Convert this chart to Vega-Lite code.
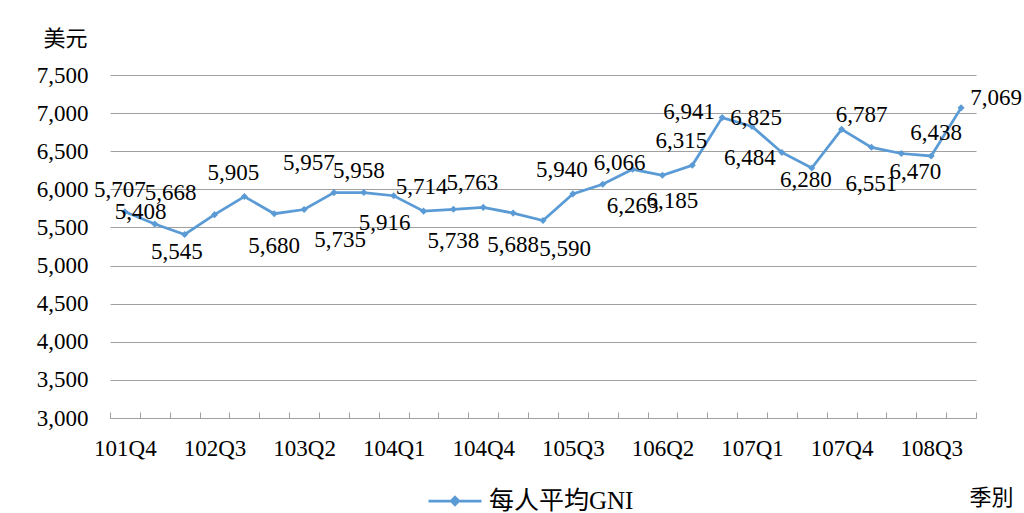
{
  "$schema": "https://vega.github.io/schema/vega-lite/v6.json",
  "autosize": {"type": "none"},
  "width": 866,
  "height": 343,
  "padding": {"left": 110, "top": 75, "right": 48, "bottom": 95},
  "background": "white",
  "config": {"view": {"stroke": null}},
  "data": {
    "values": [
      {"q": "101Q4", "v": 5707},
      {"q": "102Q1", "v": 5545},
      {"q": "102Q2", "v": 5408},
      {"q": "102Q3", "v": 5668},
      {"q": "102Q4", "v": 5905},
      {"q": "103Q1", "v": 5680},
      {"q": "103Q2", "v": 5735},
      {"q": "103Q3", "v": 5957},
      {"q": "103Q4", "v": 5958},
      {"q": "104Q1", "v": 5916},
      {"q": "104Q2", "v": 5714},
      {"q": "104Q3", "v": 5738},
      {"q": "104Q4", "v": 5763},
      {"q": "105Q1", "v": 5688},
      {"q": "105Q2", "v": 5590},
      {"q": "105Q3", "v": 5940},
      {"q": "105Q4", "v": 6066},
      {"q": "106Q1", "v": 6263},
      {"q": "106Q2", "v": 6185},
      {"q": "106Q3", "v": 6315},
      {"q": "106Q4", "v": 6941},
      {"q": "107Q1", "v": 6825},
      {"q": "107Q2", "v": 6484},
      {"q": "107Q3", "v": 6280},
      {"q": "107Q4", "v": 6787},
      {"q": "108Q1", "v": 6551},
      {"q": "108Q2", "v": 6470},
      {"q": "108Q3", "v": 6438},
      {"q": "108Q4", "v": 7069}
    ]
  },
  "encoding": {
    "x": {
      "field": "q", "type": "ordinal", "sort": null,
      "scale": {"type": "band", "paddingInner": 0, "paddingOuter": 0},
      "axis": {
        "title": "季別", "titleX": 881, "titleY": 79, "titleAlign": "center", "titleBaseline": "middle",
        "titleFont": "Noto Sans CJK TC", "titleFontSize": 22, "titleFontWeight": "normal", "titleColor": "black",
        "labelAngle": 0, "labelFont": "Liberation Serif", "labelFontSize": 23, "labelColor": "black",
        "labelOverlap": false, "labelBaseline": "top", "labelPadding": 25,
        "labelExpr": "indexof(['101Q4','102Q3','103Q2','104Q1','104Q4','105Q3','106Q2','107Q1','107Q4','108Q3'], datum.value) >= 0 ? datum.value : ''",
        "tickBand": "extent", "tickSize": -6, "tickColor": "#a0a0a0", "tickWidth": 1,
        "domainColor": "#a0a0a0", "domainWidth": 1, "grid": false
      }
    },
    "y": {
      "field": "v", "type": "quantitative",
      "scale": {"domain": [3000, 7500], "nice": false, "zero": false},
      "axis": {
        "title": "美元", "titleAngle": 0, "titleX": -45, "titleY": -37, "titleAlign": "center", "titleBaseline": "middle",
        "titleFont": "Noto Sans CJK TC", "titleFontSize": 22, "titleFontWeight": "normal", "titleColor": "black",
        "values": [3000, 3500, 4000, 4500, 5000, 5500, 6000, 6500, 7000, 7500],
        "format": ",d", "labelFont": "Liberation Serif", "labelFontSize": 23, "labelColor": "black",
        "labelPadding": 22, "ticks": false, "domain": false,
        "grid": true, "gridColor": "#a0a0a0", "gridWidth": 1
      }
    }
  },
  "layer": [
    {
      "mark": {"type": "line", "strokeWidth": 2.75},
      "encoding": {
        "color": {
          "datum": "每人平均GNI",
          "scale": {"range": ["#5b9bd5"]},
          "legend": {
            "orient": "none", "legendX": 317, "legendY": 398, "title": null, "padding": 0,
            "symbolType": "M-1,0H1M0,-0.14L0.14,0L0,0.14L-0.14,0Z", "symbolSize": 2809,
            "symbolStrokeWidth": 2.75, "symbolFillColor": "#5b9bd5", "symbolStrokeColor": "#5b9bd5",
            "labelFont": "Liberation Serif, Noto Sans CJK TC", "labelFontSize": 25, "labelColor": "black", "labelOffset": 6
          }
        }
      }
    },
    {"mark": {"type": "point", "shape": "diamond", "filled": true, "size": 50, "color": "#5b9bd5", "opacity": 1}},
    {"transform": [{"filter": {"field": "q", "oneOf": ["101Q4"]}}], "mark": {"type": "text", "dx": -5, "dy": -22, "font": "Liberation Serif", "fontSize": 23, "color": "black"}, "encoding": {"text": {"field": "v", "format": ","}}},
    {"transform": [{"filter": {"field": "q", "oneOf": ["104Q2"]}}], "mark": {"type": "text", "dx": -2, "dy": -24, "font": "Liberation Serif", "fontSize": 23, "color": "black"}, "encoding": {"text": {"field": "v", "format": ","}}},
    {"transform": [{"filter": {"field": "q", "oneOf": ["108Q3"]}}], "mark": {"type": "text", "dx": 5, "dy": -23, "font": "Liberation Serif", "fontSize": 23, "color": "black"}, "encoding": {"text": {"field": "v", "format": ","}}},
    {"transform": [{"filter": {"field": "q", "oneOf": ["102Q4", "104Q4", "105Q3", "106Q3"]}}], "mark": {"type": "text", "dx": -11, "dy": -24, "font": "Liberation Serif", "fontSize": 23, "color": "black"}, "encoding": {"text": {"field": "v", "format": ","}}},
    {"transform": [{"filter": {"field": "q", "oneOf": ["103Q3"]}}], "mark": {"type": "text", "dx": -25, "dy": -30, "font": "Liberation Serif", "fontSize": 23, "color": "black"}, "encoding": {"text": {"field": "v", "format": ","}}},
    {"transform": [{"filter": {"field": "q", "oneOf": ["103Q4"]}}], "mark": {"type": "text", "dx": -5, "dy": -22, "font": "Liberation Serif", "fontSize": 23, "color": "black"}, "encoding": {"text": {"field": "v", "format": ","}}},
    {"transform": [{"filter": {"field": "q", "oneOf": ["102Q2", "102Q3"]}}], "mark": {"type": "text", "dx": -44, "dy": -22, "font": "Liberation Serif", "fontSize": 23, "color": "black"}, "encoding": {"text": {"field": "v", "format": ","}}},
    {"transform": [{"filter": {"field": "q", "oneOf": ["105Q4"]}}], "mark": {"type": "text", "dx": 17, "dy": -21, "font": "Liberation Serif", "fontSize": 23, "color": "black"}, "encoding": {"text": {"field": "v", "format": ","}}},
    {"transform": [{"filter": {"field": "q", "oneOf": ["107Q4"]}}], "mark": {"type": "text", "dx": 20, "dy": -14, "font": "Liberation Serif", "fontSize": 23, "color": "black"}, "encoding": {"text": {"field": "v", "format": ","}}},
    {"transform": [{"filter": {"field": "q", "oneOf": ["108Q4"]}}], "mark": {"type": "text", "dx": 35, "dy": -10, "font": "Liberation Serif", "fontSize": 23, "color": "black"}, "encoding": {"text": {"field": "v", "format": ","}}},
    {"transform": [{"filter": {"field": "q", "oneOf": ["107Q1"]}}], "mark": {"type": "text", "dx": 4, "dy": -8, "font": "Liberation Serif", "fontSize": 23, "color": "black"}, "encoding": {"text": {"field": "v", "format": ","}}},
    {"transform": [{"filter": {"field": "q", "oneOf": ["106Q4"]}}], "mark": {"type": "text", "dx": -33, "dy": -6, "font": "Liberation Serif", "fontSize": 23, "color": "black"}, "encoding": {"text": {"field": "v", "format": ","}}},
    {"transform": [{"filter": {"field": "q", "oneOf": ["107Q2"]}}], "mark": {"type": "text", "dx": -32, "dy": 6, "font": "Liberation Serif", "fontSize": 23, "color": "black"}, "encoding": {"text": {"field": "v", "format": ","}}},
    {"transform": [{"filter": {"field": "q", "oneOf": ["103Q1", "104Q3", "105Q1"]}}], "mark": {"type": "text", "dx": 0, "dy": 32, "font": "Liberation Serif", "fontSize": 23, "color": "black"}, "encoding": {"text": {"field": "v", "format": ","}}},
    {"transform": [{"filter": {"field": "q", "oneOf": ["103Q2"]}}], "mark": {"type": "text", "dx": 36, "dy": 30, "font": "Liberation Serif", "fontSize": 23, "color": "black"}, "encoding": {"text": {"field": "v", "format": ","}}},
    {"transform": [{"filter": {"field": "q", "oneOf": ["106Q1", "108Q1"]}}], "mark": {"type": "text", "dx": 0, "dy": 37, "font": "Liberation Serif", "fontSize": 23, "color": "black"}, "encoding": {"text": {"field": "v", "format": ","}}},
    {"transform": [{"filter": {"field": "q", "oneOf": ["104Q1"]}}], "mark": {"type": "text", "dx": -9, "dy": 27, "font": "Liberation Serif", "fontSize": 23, "color": "black"}, "encoding": {"text": {"field": "v", "format": ","}}},
    {"transform": [{"filter": {"field": "q", "oneOf": ["102Q1", "105Q2"]}}], "mark": {"type": "text", "dx": 22, "dy": 28, "font": "Liberation Serif", "fontSize": 23, "color": "black"}, "encoding": {"text": {"field": "v", "format": ","}}},
    {"transform": [{"filter": {"field": "q", "oneOf": ["106Q2"]}}], "mark": {"type": "text", "dx": 10, "dy": 26, "font": "Liberation Serif", "fontSize": 23, "color": "black"}, "encoding": {"text": {"field": "v", "format": ","}}},
    {"transform": [{"filter": {"field": "q", "oneOf": ["108Q2"]}}], "mark": {"type": "text", "dx": 14, "dy": 18, "font": "Liberation Serif", "fontSize": 23, "color": "black"}, "encoding": {"text": {"field": "v", "format": ","}}},
    {"transform": [{"filter": {"field": "q", "oneOf": ["107Q3"]}}], "mark": {"type": "text", "dx": -6, "dy": 12, "font": "Liberation Serif", "fontSize": 23, "color": "black"}, "encoding": {"text": {"field": "v", "format": ","}}}
  ]
}
